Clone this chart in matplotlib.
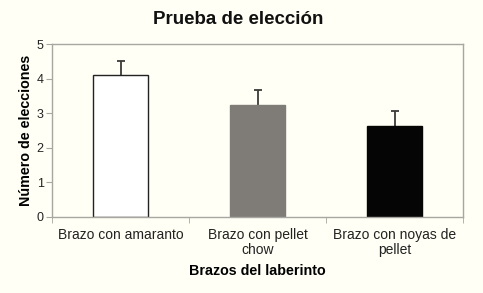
"""
Prueba de elección: número de elecciones por brazo del laberinto.
"""

import matplotlib
matplotlib.use("Agg")
import matplotlib.pyplot as plt
import numpy as np

categories = ["Brazo con amaranto", "Brazo con pellet\nchow", "Brazo con noyas de\npellet"]
means = [4.10, 3.25, 2.62]
errors = [0.41, 0.41, 0.44]
bar_colors = ["#FFFFFF", "#7F7B77", "#050505"]

BG = "#FFFFF5"
SPINE = "#A8A6A0"

plt.rcParams["font.family"] = ["Liberation Sans", "DejaVu Sans"]

fig = plt.figure(figsize=(4.83, 2.93), dpi=100, facecolor=BG)
ax = fig.add_axes([0.1077, 0.2594, 0.8509, 0.5904], facecolor=BG)

x = np.arange(len(categories))
# error bars sit behind the bars so only the upper half shows
ax.errorbar(x, means, yerr=errors, fmt="none", ecolor="#3A3A3A",
            elinewidth=1.3, capsize=3, capthick=1.3, zorder=1)
ax.bar(x, means, width=0.4, color=bar_colors, edgecolor=["#222222", "#7F7B77", "#050505"],
       linewidth=1.0, zorder=2)

ax.set_xlim(-0.5, 2.5)
ax.set_ylim(0, 5)
ax.set_yticks(range(6))
ax.tick_params(axis="y", direction="out", length=4, color=SPINE, labelsize=9,
               labelcolor="#222222", pad=2)

ax.set_xticks(x)
ax.set_xticklabels(categories, fontsize=10, color="#222222", linespacing=1.1)
ax.tick_params(axis="x", which="major", length=0, pad=8)
ax.set_xticks([-0.5, 0.5, 1.5, 2.5], minor=True)
ax.tick_params(axis="x", which="minor", direction="out", length=4, color=SPINE)

for side in ["left", "right", "top", "bottom"]:
    ax.spines[side].set_color(SPINE)
    ax.spines[side].set_linewidth(1.0)

ax.set_ylabel("Número de elecciones", fontsize=10.3, fontweight="bold", labelpad=3)
ax.set_xlabel("Brazos del laberinto", fontsize=10.3, fontweight="bold", labelpad=5)

fig.text(238 / 483, 1 - 19 / 293, "Prueba de elección", ha="center", va="center",
         fontsize=13.5, fontweight="bold", color="#111111")

fig.savefig("out.png", dpi=100, facecolor=BG)
